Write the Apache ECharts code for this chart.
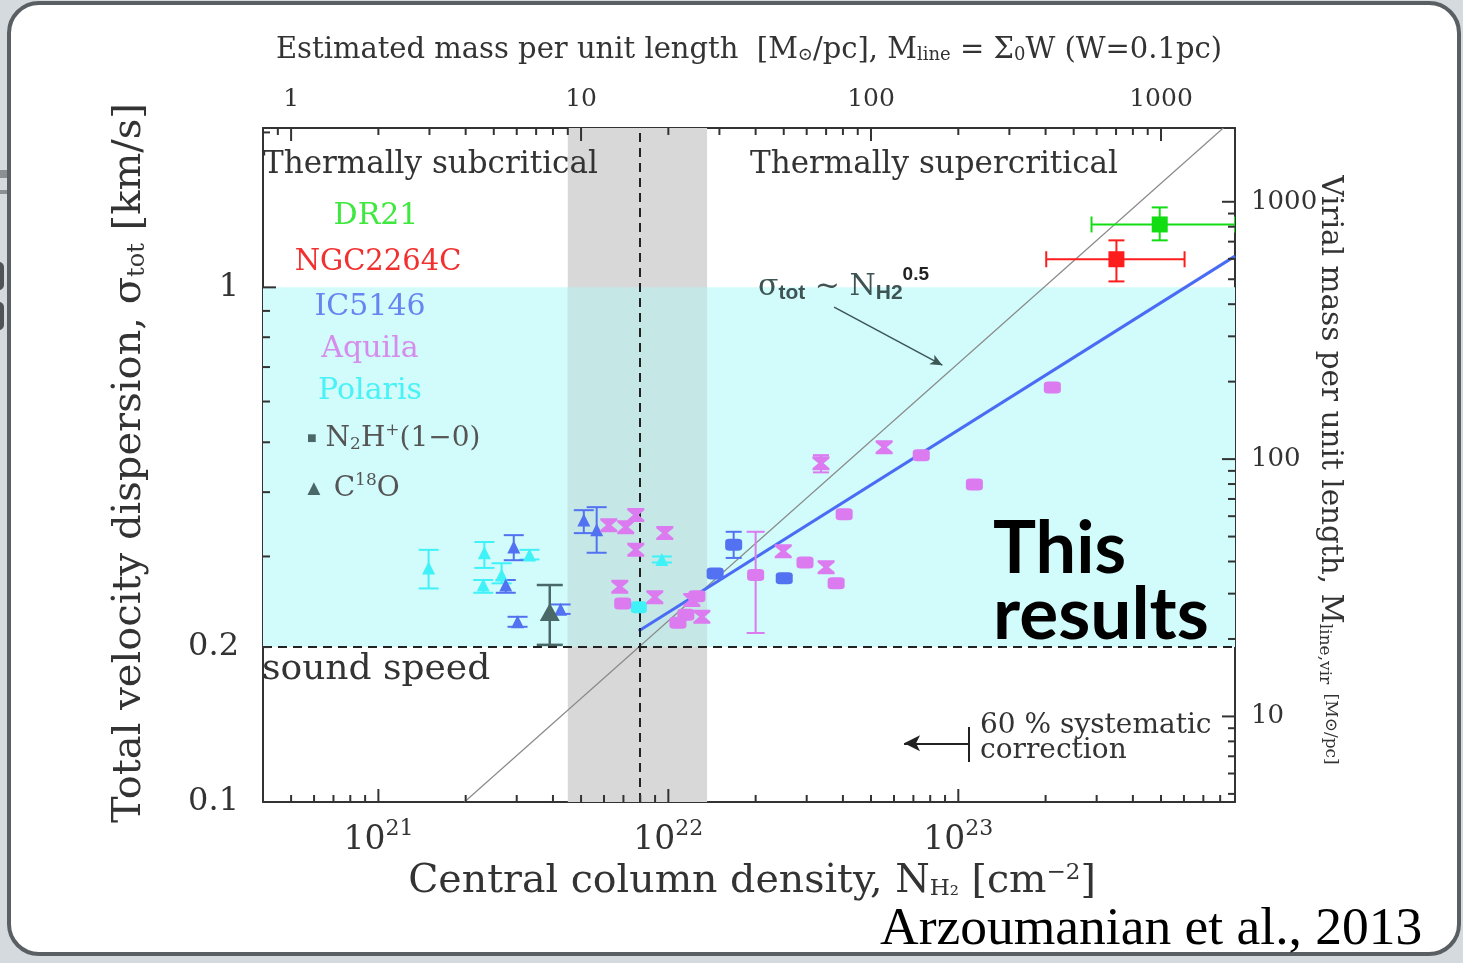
<!DOCTYPE html>
<html>
<head>
<meta charset="utf-8">
<script src="https://cdn.jsdelivr.net/npm/echarts@6/dist/echarts.min.js"></script>
<style>
  html, body { margin: 0; padding: 0; background: #d5dadf; }
  #chart { width: 1463px; height: 963px; }
</style>
</head>
<body>
<div id="chart"></div>
<script>
// ---- axis ranges and physical constants ----
const nRange = [4e20, 9e23];        // central column density N_H2 [cm^-2]
const sigmaRange = [0.1, 2.04];     // total velocity dispersion [km/s]
const columnPerMass = 5.0e20;       // N_H2 per unit M_line [Msun/pc], W = 0.1 pc
const virialCoef = 465;             // M_line,vir = 2 sigma^2 / G  [Msun/pc per (km/s)^2]
const soundSpeed = 0.2;             // km/s
const criticalN = 8e21;             // thermally critical column density
const criticalBand = [4.5e21, 1.36e22];

// ---- tick values ----
const nMajorTicks = [1e21, 1e22, 1e23];
const nMinorTicks = [5e20, 6e20, 7e20, 8e20, 9e20,
  2e21, 3e21, 4e21, 5e21, 6e21, 7e21, 8e21, 9e21,
  2e22, 3e22, 4e22, 5e22, 6e22, 7e22, 8e22, 9e22,
  2e23, 3e23, 4e23, 5e23, 6e23, 7e23, 8e23, 9e23];
const mMajorTicks = [1, 10, 100, 1000];
const mMinorTicks = [0.9, 2, 3, 4, 5, 6, 7, 8, 9, 20, 30, 40, 50, 60, 70, 80, 90,
  200, 300, 400, 500, 600, 700, 800, 900];
const sigmaLabelTicks = [0.1, 0.2, 1];
const sigmaMajorTicks = [0.1, 1];
const sigmaMinorTicks = [0.2, 0.3, 0.4, 0.5, 0.6, 0.7, 0.8, 0.9, 2];
const vMajorTicks = [10, 100, 1000];
const vMinorTicks = [5, 6, 7, 8, 9, 20, 30, 40, 50, 60, 70, 80, 90,
  200, 300, 400, 500, 600, 700, 800, 900];

// ---- data: [N_H2, sigma, sigma_low, sigma_high, (N_low, N_high)] ----
const polarisC18O = [
  [1.49e21, 0.285, 0.260, 0.309],
  [2.32e21, 0.305, 0.285, 0.320],
  [2.30e21, 0.264, 0.255, 0.270],
  [2.66e21, 0.276, 0.266, 0.291],
  [3.32e21, 0.302, 0.296, 0.309],
  [9.50e21, 0.296, 0.292, 0.300]
];
const polarisN2H = [
  [7.91e21, 0.239, 0.239, 0.239]
];
const ic5146C18O = [
  [2.93e21, 0.313, 0.295, 0.330],
  [2.75e21, 0.264, 0.255, 0.270],
  [3.02e21, 0.224, 0.219, 0.229],
  [4.25e21, 0.237, 0.232, 0.242],
  [5.11e21, 0.353, 0.333, 0.369],
  [5.66e21, 0.338, 0.305, 0.374]
];
const ic5146N2H = [
  [1.45e22, 0.278, 0.278, 0.278],
  [1.68e22, 0.316, 0.298, 0.335],
  [2.51e22, 0.272, 0.272, 0.272]
];
const aquilaC18O = [
  [6.23e21, 0.345, 0.345, 0.345],
  [7.13e21, 0.342, 0.342, 0.342],
  [7.72e21, 0.361, 0.361, 0.361],
  [7.72e21, 0.309, 0.309, 0.309],
  [9.72e21, 0.333, 0.333, 0.333],
  [6.80e21, 0.262, 0.262, 0.262],
  [8.98e21, 0.250, 0.250, 0.250],
  [1.205e22, 0.247, 0.247, 0.247],
  [1.305e22, 0.229, 0.229, 0.229],
  [2.49e22, 0.307, 0.307, 0.307],
  [3.50e22, 0.286, 0.286, 0.286],
  [3.36e22, 0.455, 0.437, 0.472],
  [5.55e22, 0.489, 0.489, 0.489]
];
const aquilaN2H = [
  [6.96e21, 0.243, 0.243, 0.243],
  [1.254e22, 0.251, 0.251, 0.251],
  [1.149e22, 0.231, 0.231, 0.231],
  [1.079e22, 0.223, 0.223, 0.223],
  [2.00e22, 0.276, 0.213, 0.335],
  [2.96e22, 0.292, 0.292, 0.292],
  [3.79e22, 0.266, 0.266, 0.266],
  [4.04e22, 0.3625, 0.3625, 0.3625],
  [7.45e22, 0.472, 0.472, 0.472],
  [1.136e23, 0.414, 0.414, 0.414],
  [2.11e23, 0.639, 0.639, 0.639]
];
const typicalC18O = [
  [3.90e21, 0.234, 0.202, 0.264]
];
const dr21N2H = [
  [4.95e23, 1.325, 1.234, 1.430, 2.88e23, 9.0e23]
];
const ngc2264cN2H = [
  [3.51e23, 1.134, 1.027, 1.234, 2.01e23, 6.03e23]
];

// ---- lines ----
const virialEqualityLine = [[1.98e21, 0.1], [8.2e23, 2.04]];   // M_line = M_line,vir
const fitLine = [[7.9e21, 0.215], [9.0e23, 1.15]];
const sigmaLawArrow = [[3.73e22, 0.915], [8.81e22, 0.706]];
const correctionArrow = [[1.09e23, 0.130], [6.5e22, 0.130]];
const correctionBar = [[1.09e23, 0.1196], [1.09e23, 0.1398]];

// ---- style ----
const SERIF = "'DejaVu Serif', serif";
const AX = '#333';
const TXT = '#333';
const C_GREEN = '#12dd12', C_RED = '#ff1c1c', C_BLUE = '#5272f2',
      C_MAG = '#dc7af0', C_CYAN = '#3ef2f8', C_TEAL = '#4a6868';
const BOWTIE = 'path://M0,0 L16,0 L16,2 L10.5,6.5 L16,11 L16,13 L0,13 L0,11 L5.5,6.5 L0,2 Z';
const MAJOR_LEN = 13, MINOR_LEN = 7;

const chart = echarts.init(document.getElementById('chart'), null, { renderer: 'canvas' });

const mRange = [nRange[0] / columnPerMass, nRange[1] / columnPerMass];
const vRange = [virialCoef * sigmaRange[0] ** 2, virialCoef * sigmaRange[1] ** 2];

function logAxis(o, label) {
  return Object.assign({
    type: 'log', logBase: 10, gridIndex: 0,
    splitLine: { show: false }, axisPointer: { show: false },
    minorTick: { show: false }, minorSplitLine: { show: false },
    axisLine: { show: true, onZero: false, lineStyle: { color: AX, width: 2 } },
    axisTick: { show: false },
    axisLabel: Object.assign({ show: true, color: TXT, fontFamily: SERIF, hideOverlap: false }, label)
  }, o);
}

// Tick marks along the frame: one group per side, positions from the axis scales.
const tickSides = [
  { side: 'bottom', major: nMajorTicks, minor: nMinorTicks },
  { side: 'top', major: mMajorTicks.map(v => v * columnPerMass), minor: mMinorTicks.map(v => v * columnPerMass) },
  { side: 'left', major: sigmaMajorTicks, minor: sigmaMinorTicks },
  { side: 'right', major: vMajorTicks.map(v => Math.sqrt(v / virialCoef)), minor: vMinorTicks.map(v => Math.sqrt(v / virialCoef)) }
];

const tickSeries = {
  type: 'custom', xAxisIndex: 0, yAxisIndex: 0, z: 10, silent: true, clip: false,
  encode: { x: 0, y: 1 },
  data: tickSides.map((s, i) => [1e22, 0.5, i]),
  renderItem(params, api) {
    const spec = tickSides[params.dataIndex];
    const horizontal = spec.side === 'bottom' || spec.side === 'top';
    const lim = horizontal ? nRange : sigmaRange;
    const children = [];
    const add = (v, len) => {
      if (v < lim[0] || v > lim[1]) return;
      let a;
      let d;
      if (spec.side === 'bottom') { a = api.coord([v, sigmaRange[0]]); d = [0, -len]; }
      else if (spec.side === 'top') { a = api.coord([v, sigmaRange[1]]); d = [0, len]; }
      else if (spec.side === 'left') { a = api.coord([nRange[0], v]); d = [len, 0]; }
      else { a = api.coord([nRange[1], v]); d = [-len, 0]; }
      children.push({
        type: 'line',
        shape: { x1: a[0], y1: a[1], x2: a[0] + d[0], y2: a[1] + d[1] },
        style: { stroke: AX, lineWidth: 2 }
      });
    };
    spec.major.forEach(v => add(v, MAJOR_LEN));
    spec.minor.forEach(v => add(v, MINOR_LEN));
    return { type: 'group', children };
  }
};

function errorBars(data, color, cap, width) {
  return {
    type: 'custom', xAxisIndex: 0, yAxisIndex: 0, z: 4, silent: true, clip: true,
    data: data.map(d => [d[0], d[1], d[2], d[3], d[4] || d[0], d[5] || d[0]]),
    renderItem(params, api) {
      const n = api.value(0), s = api.value(1), lo = api.value(2), hi = api.value(3);
      const nlo = api.value(4), nhi = api.value(5);
      const st = { stroke: color, lineWidth: width };
      const ch = [];
      if (hi > lo) {
        const a = api.coord([n, lo]), b = api.coord([n, hi]);
        ch.push({ type: 'line', shape: { x1: a[0], y1: a[1], x2: b[0], y2: b[1] }, style: st });
        ch.push({ type: 'line', shape: { x1: a[0] - cap, y1: a[1], x2: a[0] + cap, y2: a[1] }, style: st });
        ch.push({ type: 'line', shape: { x1: b[0] - cap, y1: b[1], x2: b[0] + cap, y2: b[1] }, style: st });
      }
      if (nhi > nlo) {
        const a = api.coord([nlo, s]), b = api.coord([nhi, s]);
        ch.push({ type: 'line', shape: { x1: a[0], y1: a[1], x2: b[0], y2: b[1] }, style: st });
        ch.push({ type: 'line', shape: { x1: a[0], y1: a[1] - cap, x2: a[0], y2: a[1] + cap }, style: st });
        ch.push({ type: 'line', shape: { x1: b[0], y1: b[1] - cap, x2: b[0], y2: b[1] + cap }, style: st });
      }
      return { type: 'group', children: ch };
    }
  };
}
function points(data, color, symbol, size, z) {
  return {
    type: 'scatter', xAxisIndex: 0, yAxisIndex: 0, z: z || 5, silent: true,
    symbol, symbolSize: size,
    itemStyle: { color, opacity: 1 },
    data: data.map(d => [d[0], d[1]])
  };
}

function txt(x, y, text, o) {
  return {
    type: 'text', x, y, z: 60, silent: true,
    style: Object.assign({ text, fill: TXT, fontFamily: SERIF, fontSize: 29, align: 'left', verticalAlign: 'middle' }, o)
  };
}

const option = {
  animation: false,
  backgroundColor: 'transparent',
  grid: [
    { left: 263, top: 128, width: 972, height: 674, show: false, containLabel: false, outerBoundsMode: 'none' }
  ],
  xAxis: [
    logAxis({ position: 'bottom', min: nRange[0], max: nRange[1] }, {
      customValues: nMajorTicks, margin: 16,
      formatter: v => '{b|10}{s|' + Math.round(Math.log10(v)) + '}',
      rich: {
        b: { fontSize: 33, fontFamily: SERIF, color: TXT },
        s: { fontSize: 22, fontFamily: SERIF, color: TXT, padding: [0, 0, 22, 0] }
      }
    }),
    logAxis({ position: 'top', min: mRange[0], max: mRange[1] }, {
      customValues: mMajorTicks, margin: 16, fontSize: 25,
      formatter: v => String(Math.round(v))
    })
  ],
  yAxis: [
    logAxis({ position: 'left', min: sigmaRange[0], max: sigmaRange[1] }, {
      customValues: sigmaLabelTicks, margin: 24, fontSize: 32,
      formatter: v => String(+v.toPrecision(2))
    }),
    logAxis({ position: 'right', min: vRange[0], max: vRange[1] }, {
      customValues: vMajorTicks, margin: 16, fontSize: 26,
      formatter: v => String(Math.round(v))
    })
  ],
  series: [
    {
      // transonic band and the thermally critical range
      type: 'line', xAxisIndex: 0, yAxisIndex: 0, data: [], z: 1, silent: true,
      markArea: {
        silent: true,
        data: [
          [{ coord: [nRange[0], soundSpeed], itemStyle: { color: '#d2fbfb' } }, { coord: [nRange[1], 1.0] }],
          [{ coord: [criticalBand[0], sigmaRange[0]], itemStyle: { color: '#d8d8d8' } }, { coord: [criticalBand[1], sigmaRange[1]] }],
          [{ coord: [criticalBand[0], soundSpeed], itemStyle: { color: '#c5e8e6' } }, { coord: [criticalBand[1], 1.0] }]
        ]
      }
    },
    {
      type: 'line', xAxisIndex: 0, yAxisIndex: 0, data: [], z: 2, silent: true,
      markLine: {
        silent: true, symbol: ['none', 'none'], label: { show: false },
        lineStyle: { color: '#222', width: 2, type: [9, 6] },
        data: [
          [{ coord: [criticalN, sigmaRange[0]] }, { coord: [criticalN, sigmaRange[1]] }],
          [{ coord: [nRange[0], soundSpeed] }, { coord: [nRange[1], soundSpeed] }],
          [{ coord: sigmaLawArrow[0], lineStyle: { color: '#3d5656', width: 1.5, type: 'solid' } },
           { coord: sigmaLawArrow[1], symbol: 'arrow', symbolSize: [8, 12] }],
          [{ coord: correctionArrow[0], lineStyle: { color: '#222', width: 2, type: 'solid' } },
           { coord: correctionArrow[1], symbol: 'arrow', symbolSize: [12, 16] }],
          [{ coord: correctionBar[0], lineStyle: { color: '#222', width: 2, type: 'solid' } },
           { coord: correctionBar[1] }]
        ]
      }
    },
    {
      type: 'line', xAxisIndex: 0, yAxisIndex: 0, z: 3, silent: true, symbol: 'none',
      lineStyle: { color: '#8a8a8a', width: 1.2 }, data: virialEqualityLine
    },
    {
      type: 'line', xAxisIndex: 0, yAxisIndex: 0, z: 3, silent: true, symbol: 'none',
      lineStyle: { color: '#4a6cf5', width: 3 }, data: fitLine
    },
    tickSeries,
    errorBars(polarisC18O, C_CYAN, 10, 2),
    errorBars(ic5146C18O, C_BLUE, 10, 2),
    errorBars(ic5146N2H, C_BLUE, 8, 2),
    errorBars(aquilaC18O, C_MAG, 8, 2),
    errorBars(aquilaN2H, C_MAG, 9, 2),
    errorBars(typicalC18O, C_TEAL, 13, 2.5),
    errorBars(dr21N2H, C_GREEN, 8, 2),
    errorBars(ngc2264cN2H, C_RED, 8, 2),
    points(polarisC18O, C_CYAN, 'triangle', [13, 13]),
    points(polarisN2H, C_CYAN, 'roundRect', [16, 12]),
    points(ic5146C18O, C_BLUE, 'triangle', [13, 13]),
    points(ic5146N2H, C_BLUE, 'roundRect', [17, 12]),
    points(aquilaC18O, C_MAG, BOWTIE, [17, 14]),
    points(aquilaN2H, C_MAG, 'roundRect', [17, 12]),
    points(typicalC18O, C_TEAL, 'triangle', [20, 18]),
    points(dr21N2H, C_GREEN, 'rect', [16, 16]),
    points(ngc2264cN2H, C_RED, 'rect', [16, 16])
  ],
  graphic: [
    // slide frame
    { type: 'rect', z: -10, silent: true, shape: { x: 9, y: 3, width: 1450, height: 951, r: 30 },
      style: { fill: '#ffffff', stroke: '#5a5f63', lineWidth: 4 } },
    { type: 'rect', z: -10, silent: true, shape: { x: 0, y: 170, width: 7, height: 8 }, style: { fill: '#8a9094' } },
    { type: 'rect', z: -10, silent: true, shape: { x: 0, y: 190, width: 7, height: 4 }, style: { fill: '#8a9094' } },
    { type: 'rect', z: -10, silent: true, shape: { x: -6, y: 262, width: 10, height: 28, r: 5 }, style: { fill: '#505456' } },
    { type: 'rect', z: -10, silent: true, shape: { x: -6, y: 302, width: 10, height: 28, r: 5 }, style: { fill: '#505456' } },

    // axis titles
    txt(749, 50, 'Estimated mass per unit length  [M{sub|⊙}/pc], M{sub|line} = Σ{sub|0}W (W=0.1pc)', {
      align: 'center', fontSize: 29,
      rich: { sub: { fontSize: 18, fontFamily: SERIF, padding: [10, 0, 0, 0] } }
    }),
    txt(752, 882, 'Central column density, N{sub|H₂} [cm{sup|−2}]', {
      align: 'center', fontSize: 39.5,
      rich: {
        sub: { fontSize: 23, fontFamily: SERIF, padding: [14, 0, 0, 0] },
        sup: { fontSize: 23, fontFamily: SERIF, padding: [0, 0, 18, 0] }
      }
    }),
    Object.assign(txt(130, 463, 'Total velocity dispersion, σ{sub|tot} [km/s]', {
      align: 'center', fontSize: 40,
      rich: { sub: { fontSize: 24, fontFamily: SERIF, padding: [15, 0, 0, 0] } }
    }), { rotation: Math.PI / 2 }),
    Object.assign(txt(1330, 470, 'Virial mass per unit length, M{sub|line,vir} {sm|[M⊙/pc]}', {
      align: 'center', fontSize: 29.5,
      rich: {
        sub: { fontSize: 17, fontFamily: SERIF, padding: [11, 0, 0, 0] },
        sm: { fontSize: 17, fontFamily: SERIF }
      }
    }), { rotation: -Math.PI / 2 }),

    // region labels
    txt(263, 165, 'Thermally subcritical', { fontSize: 31 }),
    txt(750, 165, 'Thermally supercritical', { fontSize: 31 }),
    txt(262, 670, 'sound speed', { fontSize: 36 }),
    txt(980, 726, '60 % systematic', { fontSize: 28 }),
    txt(980, 751, 'correction', { fontSize: 28 }),
    txt(758, 287, 'σ{sub|tot} ~ N{sub|H2}{sup|0.5}', {
      fontSize: 30, fill: '#3e5454',
      rich: {
        sub: { fontSize: 21, fontFamily: "'Liberation Sans', sans-serif", fontWeight: 'bold', padding: [12, 0, 0, 0] },
        sup: { fontSize: 19, fontFamily: "'Liberation Sans', sans-serif", fontWeight: 'bold', padding: [0, 0, 24, 0], fill: '#222' }
      }
    }),

    // legend
    txt(376, 216, 'DR21', { align: 'center', fill: '#3ee83e', fontSize: 30 }),
    txt(378, 262, 'NGC2264C', { align: 'center', fill: '#f23030', fontSize: 29 }),
    txt(370, 307, 'IC5146', { align: 'center', fill: '#6785f0', fontSize: 30 }),
    txt(370, 349, 'Aquila', { align: 'center', fill: '#d68cec', fontSize: 30 }),
    txt(370, 391, 'Polaris', { align: 'center', fill: '#48f2f6', fontSize: 30 }),
    txt(307, 439, '{m|■} N{sub|2}H{sup|+}(1−0)', {
      fontSize: 28, fill: '#555',
      rich: {
        m: { fontSize: 16, fill: C_TEAL },
        sub: { fontSize: 17, fontFamily: SERIF, padding: [12, 0, 0, 0] },
        sup: { fontSize: 17, fontFamily: SERIF, padding: [0, 0, 16, 0] }
      }
    }),
    txt(303, 489, '{m|▲} C{sup|18}O', {
      fontSize: 28, fill: '#555',
      rich: {
        m: { fontSize: 22, fill: C_TEAL },
        sup: { fontSize: 17, fontFamily: SERIF, padding: [0, 0, 16, 0] }
      }
    }),

    // highlight
    txt(993, 550, 'This', { fontSize: 72, fontFamily: "'Lato', 'Noto Sans', sans-serif", fontWeight: 'bold', fill: '#000' }),
    txt(993, 615, 'results', { fontSize: 73, fontFamily: "'Lato', 'Noto Sans', sans-serif", fontWeight: 'bold', fill: '#000' }),
    txt(880, 930, 'Arzoumanian et al., 2013', { fontSize: 53.5, fontFamily: "'Liberation Serif', serif", fill: '#000' })
  ]
};

chart.setOption(option);
</script>
</body>
</html>
